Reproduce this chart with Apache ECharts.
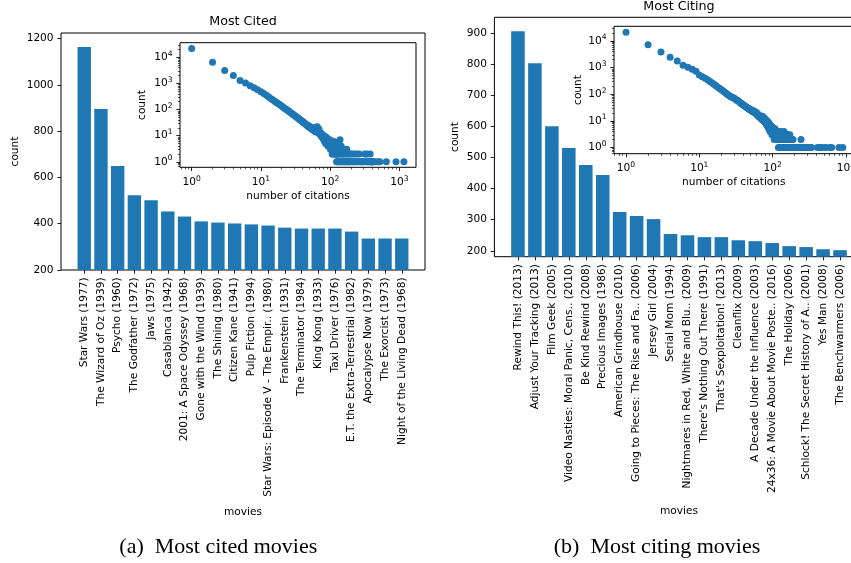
<!DOCTYPE html>
<html><head><meta charset="utf-8">
<script src="https://cdn.jsdelivr.net/npm/echarts@6/dist/echarts.min.js"></script>
<style>html,body{margin:0;padding:0;background:#fff}#c{width:851px;height:563px}</style>
</head><body><div id="c"></div>
<script>
// ---------- data ----------
const citedMovies = ["Star Wars (1977)", "The Wizard of Oz (1939)", "Psycho (1960)", "The Godfather (1972)", "Jaws (1975)", "Casablanca (1942)", "2001: A Space Odyssey (1968)", "Gone with the Wind (1939)", "The Shining (1980)", "Citizen Kane (1941)", "Pulp Fiction (1994)", "Star Wars: Episode V - The Empir.. (1980)", "Frankenstein (1931)", "The Terminator (1984)", "King Kong (1933)", "Taxi Driver (1976)", "E.T. the Extra-Terrestrial (1982)", "Apocalypse Now (1979)", "The Exorcist (1973)", "Night of the Living Dead (1968)"];
const citedCounts = [1164, 896, 649, 523, 501, 453, 431, 410, 405, 401, 397, 392, 383, 379, 379, 379, 366, 336, 336, 336];

const citingMovies = ["Rewind This! (2013)", "Adjust Your Tracking (2013)", "Film Geek (2005)", "Video Nasties: Moral Panic, Cens.. (2010)", "Be Kind Rewind (2008)", "Precious Images (1986)", "American Grindhouse (2010)", "Going to Pieces: The Rise and Fa.. (2006)", "Jersey Girl (2004)", "Serial Mom (1994)", "Nightmares in Red, White and Blu.. (2009)", "There's Nothing Out There (1991)", "That's Sexploitation! (2013)", "Cleanflix (2009)", "A Decade Under the Influence (2003)", "24x36: A Movie About Movie Poste.. (2016)", "The Holiday (2006)", "Schlock! The Secret History of A.. (2001)", "Yes Man (2008)", "The Benchwarmers (2006)"];
const citingCounts = [907, 804, 601, 531, 476, 444, 325, 312, 302, 254, 250, 244, 244, 234, 231, 225, 215, 212, 205, 202];

// inset (a): number of citations received -> number of movies
const citedDegree = [1,2,3,4,5,6,7,8,9,10,11,12,13,14,15,16,17,18,19,20,21,22,23,24,25,26,27,28,29,30,31,32,33,34,35,36,37,38,39,40,41,42,43,44,45,46,47,48,49,50,51,52,53,54,55,56,57,58,59,60,61,62,63,64,65,66,67,68,69,70,71,72,73,74,75,76,77,78,79,80,
  81,82,83,84,85,86,87,88,89,90,91,92,93,94,95,96,97,98,99,100,101,102,103,104,105,106,107,108,109,110,111,112,113,114,115,116,117,118,119,120,121,122,123,
  124,125,126,127,128,130,131,132,134,136,137,139,140,141,143,144,146,148,150,151,153,155,157,160,162,164,167,170,172,174,177,180,183,186,190,194,198,203,208,212,218,223,228,236,242,249,256,263,271,280,289,298,307,318,327,336,345,355,366,379,383,392,397,401,405,410,431,453,501,523,649,896,1165];
const citedFreq = [21900,6450,3100,2000,1300,1030,820,680,570,480,410,350,300,262,232,205,184,166,150,136,124,113,104,96,88,82,76,71,66,62,58,54,51,49,46,43,41,39,36,35,33,31,30,28,27,26,24,23,24,21,22,20,19,21,18,17,19,16,17,15,18,14,21,19,22,15,17,13,18,12,14,11,13,10,12,9,11,10,8,9,
  7,10,6,8,7,5,9,6,7,5,8,6,4,7,5,6,4,5,7,6,3,5,4,6,3,5,2,4,3,5,2,4,3,6,2,3,4,2,5,3,2,4,2,
  1,3,2,1,4,2,1,3,5,2,1,7,3,1,2,4,1,3,2,1,3,2,1,2,1,3,1,2,1,3,1,2,1,2,1,1,2,1,2,1,1,2,1,1,2,1,1,2,1,1,1,1,1,2,1,2,1,1,1,2,1,1,1,1,1,1,1,1,1,1,1,1,1];

// inset (b): number of citations made -> number of movies
const citingDegree = [1,2,3,4,5,6,7,8,9,10,11,12,13,14,15,16,17,18,19,20,21,22,23,24,25,26,27,28,29,30,31,32,33,34,35,36,37,38,39,40,41,42,43,44,45,46,47,48,49,50,51,52,53,54,55,56,57,58,59,60,61,62,63,64,65,66,67,68,69,70,71,72,73,74,75,76,77,78,79,80,
  81,82,83,84,85,86,87,88,89,90,91,92,93,94,95,96,97,98,99,100,101,102,103,104,105,106,107,108,110,111,112,114,115,117,119,120,121,123,125,126,128,130,131,133,135,136,138,140,142,143,145,147,149,150,152,154,156,158,160,161,163,166,168,170,172,175,177,180,182,185,188,190,193,
  197,202,205,212,215,225,231,234,244,250,254,262,275,290,302,312,325,340,410,444,476,531,601,640,804,907];
const citingFreq = [21000,7200,3820,2430,1760,1210,1020,860,720,530,455,395,345,300,262,230,205,182,163,148,134,122,110,100,93,86,80,76,73,70,66,62,58,55,52,49,46,44,41,39,37,36,34,33,31,30,29,27,26,27,25,24,23,22,24,21,22,20,19,21,17,18,16,15,17,14,15,13,14,12,13,11,15,12,10,13,11,9,12,10,
  8,9,7,10,8,6,9,7,5,8,6,4,7,5,6,4,5,3,6,4,5,3,4,5,2,4,3,5,3,4,2,3,4,2,3,1,4,2,3,1,2,4,1,3,2,1,3,2,1,4,2,3,1,2,3,1,2,3,2,1,3,2,1,2,3,1,2,2,1,2,1,2,1,
  1,1,1,1,1,1,1,1,2,1,1,1,1,1,1,1,1,1,1,1,1,1,1,1,1,1];

const citedTicks = [200, 400, 600, 800, 1000, 1200];
const citingTicks = [200, 300, 400, 500, 600, 700, 800, 900];
const logMajor = [1, 10, 100, 1000, 10000];
const logMinor = [0.2,0.3,0.4,0.5,0.6,0.7,0.8,0.9,2,3,4,5,6,7,8,9,20,30,40,50,60,70,80,90,200,300,400,500,600,700,800,900,2000,3000,4000,5000,6000,7000,8000,9000,20000,30000,40000];

// ---------- style ----------
const FONT = 'DejaVu Sans';
const BLUE = '#1f77b4';
const TXT = '#000';
const FS = 10.6;
const idx20 = citedMovies.map((_, i) => i);

function supFmt(v) { return '{b|10}{s|' + Math.round(Math.log10(v)) + '}'; }
const supRich = {
  b: { fontSize: FS, fontFamily: FONT, color: TXT, lineHeight: 15 },
  s: { fontSize: 7.6, fontFamily: FONT, color: TXT, verticalAlign: 'top', lineHeight: 9 }
};
const gridBox = { show: true, borderColor: '#000', borderWidth: 1, backgroundColor: '#fff', containLabel: false, outerBoundsMode: 'none' };
const tick = (vals, len) => ({ show: true, customValues: vals, length: len, lineStyle: { color: '#000', width: len > 3 ? 0.85 : 0.65 } });
const nameStyle = { fontFamily: FONT, fontSize: FS, color: TXT };
const noLine = { show: false, onZero: false };

function mainX(grid, cats, gap) {
  return {
    gridIndex: grid, type: 'value', min: -1.39, max: 20.39, position: 'bottom',
    axisLine: noLine, splitLine: { show: false },
    axisTick: tick(idx20, 3.7),
    axisLabel: { customValues: idx20, rotate: 90, margin: 7.4, fontFamily: FONT, fontSize: FS, color: TXT,
      formatter: v => cats[Math.round(v)] || '' },
    name: 'movies', nameLocation: 'middle', nameGap: gap, nameTextStyle: nameStyle
  };
}
function mainY(grid, min, max, ticks, gap) {
  return {
    gridIndex: grid, type: 'value', min: min, max: max, position: 'left',
    axisLine: noLine, splitLine: { show: false },
    axisTick: tick(ticks, 3.7),
    axisLabel: { customValues: ticks, margin: 7.4, fontFamily: FONT, fontSize: FS, color: TXT,
      formatter: v => String(Math.round(v)) },
    name: 'count', nameLocation: 'middle', nameGap: gap, nameTextStyle: nameStyle
  };
}
function logAxis(grid, min, max, name, gap, pos) {
  return {
    gridIndex: grid, type: 'log', logBase: 10, min: min, max: max, position: pos,
    axisLine: noLine, splitLine: { show: false }, minorTick: { show: false },
    axisTick: tick(logMajor, 3.7),
    axisLabel: { customValues: logMajor, margin: 7.4, formatter: supFmt, rich: supRich },
    name: name, nameLocation: 'middle', nameGap: gap, nameTextStyle: nameStyle
  };
}
function logMinorAxis(grid, min, max, pos) {
  return {
    gridIndex: grid, type: 'log', logBase: 10, min: min, max: max, position: pos,
    axisLine: noLine, splitLine: { show: false }, axisLabel: { show: false },
    axisTick: tick(logMinor, 2.1)
  };
}

const chart = echarts.init(document.getElementById('c'), null, { renderer: 'canvas' });
chart.setOption({
  animation: false,
  backgroundColor: '#fff',
  grid: [
    Object.assign({ left: 61, top: 33, width: 364, height: 237 }, gridBox),
    Object.assign({ left: 180, top: 42.7, width: 236, height: 124.6 }, gridBox),
    Object.assign({ left: 494.4, top: 17.3, width: 369.2, height: 239.4 }, gridBox),
    Object.assign({ left: 614, top: 26.3, width: 239.6, height: 127.4 }, gridBox)
  ],
  xAxis: [
    mainX(0, citedMovies, 237),
    logAxis(1, 0.678, 1742, 'number of citations', 23, 'bottom'),
    logMinorAxis(1, 0.678, 1742, 'bottom'),
    mainX(2, citingMovies, 249),
    logAxis(3, 0.686, 1274, 'number of citations', 23, 'bottom'),
    logMinorAxis(3, 0.686, 1274, 'bottom')
  ],
  yAxis: [
    mainY(0, 200, 1224, citedTicks, 40.5),
    logAxis(1, 0.617, 36300, 'count', 32, 'left'),
    logMinorAxis(1, 0.617, 36300, 'left'),
    mainY(2, 181, 952, citingTicks, 34),
    logAxis(3, 0.585, 35300, 'count', 30.4, 'left'),
    logMinorAxis(3, 0.585, 35300, 'left')
  ],
  series: [
    { type: 'bar', xAxisIndex: 0, yAxisIndex: 0, barWidth: '80%', clip: true,
      itemStyle: { color: BLUE }, data: citedCounts.map((v, i) => [i, v]) },
    { type: 'scatter', xAxisIndex: 1, yAxisIndex: 1, symbolSize: 7, itemStyle: { color: BLUE, opacity: 1 },
      data: citedDegree.map((k, i) => [k, citedFreq[i]]) },
    { type: 'bar', xAxisIndex: 3, yAxisIndex: 3, barWidth: '80%', clip: true,
      itemStyle: { color: BLUE }, data: citingCounts.map((v, i) => [i, v]) },
    { type: 'scatter', xAxisIndex: 4, yAxisIndex: 4, symbolSize: 7, itemStyle: { color: BLUE, opacity: 1 },
      data: citingDegree.map((k, i) => [k, citingFreq[i]]) }
  ],
  graphic: [
    { type: 'text', x: 243, y: 22, style: { text: 'Most Cited', font: '12.7px "DejaVu Sans"', fill: TXT, align: 'center', verticalAlign: 'middle' } },
    { type: 'text', x: 679, y: 7, style: { text: 'Most Citing', font: '12.7px "DejaVu Sans"', fill: TXT, align: 'center', verticalAlign: 'middle' } },
    { type: 'text', x: 218.3, y: 547, style: { text: '(a)  Most cited movies', font: '22px "Liberation Serif"', fill: TXT, align: 'center', verticalAlign: 'middle' } },
    { type: 'text', x: 657, y: 547, style: { text: '(b)  Most citing movies', font: '22px "Liberation Serif"', fill: TXT, align: 'center', verticalAlign: 'middle' } }
  ]
});
</script></body></html>
